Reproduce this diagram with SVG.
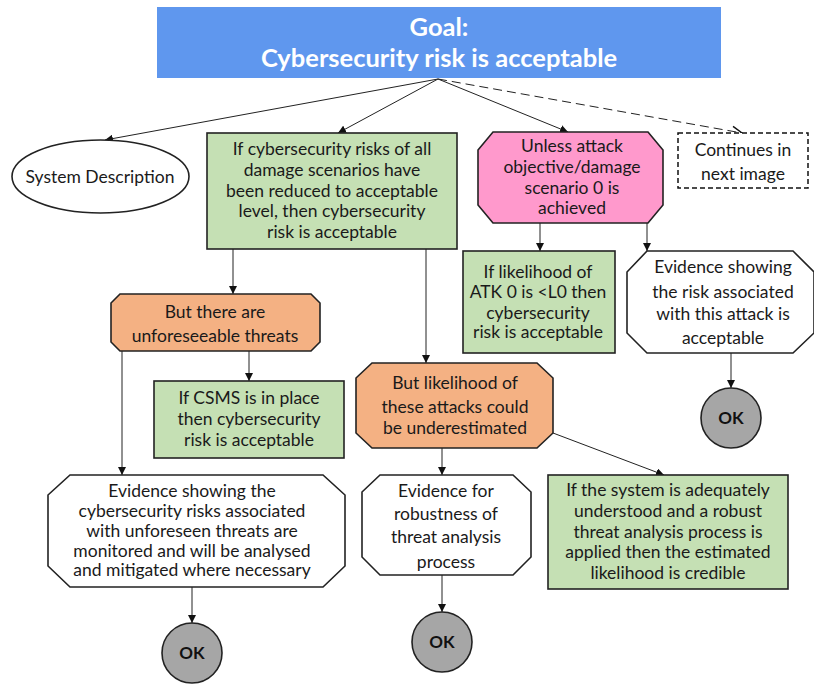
<svg xmlns="http://www.w3.org/2000/svg" width="814" height="684" viewBox="0 0 814 684">
  <defs>
    <marker id="arr" viewBox="0 0 10 10" refX="10" refY="5" markerWidth="8" markerHeight="8" markerUnits="userSpaceOnUse" orient="auto">
      <path d="M0,0 L10,5 L0,10 Z" fill="#111"/>
    </marker>
    <marker id="open" viewBox="0 0 12 12" refX="11" refY="6" markerWidth="12" markerHeight="12" markerUnits="userSpaceOnUse" orient="auto">
      <path d="M1,1 L11,6 L1,11" fill="none" stroke="#111" stroke-width="1.4"/>
    </marker>
    <style>
      .t { font-family: Lato, "Liberation Sans", sans-serif; font-size: 17.5px; fill: #1a1a1a; text-anchor: middle; }
      .goal { font-family: Lato, "Liberation Sans", sans-serif; font-size: 25.5px; font-weight: bold; fill: #ffffff; text-anchor: middle; }
      .ok { font-family: Lato, "Liberation Sans", sans-serif; font-size: 17px; font-weight: bold; fill: #111; text-anchor: middle; }
      .green { fill: #c5e0b4; stroke: #222; stroke-width: 1.6; }
      .orange { fill: #f4b183; stroke: #222; stroke-width: 1.6; }
      .pink { fill: #ff99cc; stroke: #222; stroke-width: 1.6; }
      .white { fill: #ffffff; stroke: #222; stroke-width: 1.6; }
      .okc { fill: #a6a6a6; stroke: #222; stroke-width: 1.6; }
      .ln { stroke: #222; stroke-width: 1; fill: none; }
    </style>
  </defs>

  <!-- connectors -->
  <g id="connectors">
    <line class="ln" x1="438" y1="79" x2="105" y2="140" marker-end="url(#arr)"/>
    <line class="ln" x1="438" y1="79" x2="338" y2="133" marker-end="url(#arr)"/>
    <line class="ln" x1="438" y1="79" x2="568" y2="132" marker-end="url(#arr)"/>
    <line class="ln" x1="438" y1="79" x2="742" y2="133" stroke="#111" stroke-dasharray="9,5" stroke-width="1.7" marker-end="url(#open)"/>
    <line class="ln" x1="233" y1="249" x2="233" y2="294" marker-end="url(#arr)"/>
    <line class="ln" x1="426" y1="249" x2="426" y2="363" marker-end="url(#arr)"/>
    <line class="ln" x1="540" y1="223" x2="540" y2="251" marker-end="url(#arr)"/>
    <line class="ln" x1="647" y1="223" x2="647" y2="251" marker-end="url(#arr)"/>
    <line class="ln" x1="122" y1="351" x2="122" y2="475" marker-end="url(#arr)"/>
    <line class="ln" x1="249" y1="351" x2="249" y2="381" marker-end="url(#arr)"/>
    <line class="ln" x1="731" y1="353" x2="731" y2="388" marker-end="url(#arr)"/>
    <line class="ln" x1="442" y1="448" x2="442" y2="475" marker-end="url(#arr)"/>
    <line class="ln" x1="553" y1="433" x2="664" y2="475" marker-end="url(#arr)"/>
    <line class="ln" x1="192" y1="587" x2="192" y2="623" marker-end="url(#arr)"/>
    <line class="ln" x1="442" y1="575" x2="442" y2="612" marker-end="url(#arr)"/>
  </g>

  <!-- top goal -->
  <g id="goal">
    <rect x="157" y="7" width="564" height="71" fill="#5f97ee"/>
    <text class="goal" x="439" y="36">Goal:</text>
    <text class="goal" x="439" y="67">Cybersecurity risk is acceptable</text>
  </g>

  <g id="system-description">
    <ellipse cx="100.5" cy="176.5" rx="88.5" ry="36.5" fill="#fff" stroke="#222" stroke-width="1.6"/>
    <text class="t" x="100" y="183">System Description</text>
  </g>

  <g id="strategy-all-scenarios">
    <rect class="green" x="207" y="133" width="250" height="116"/>
    <text class="t" x="332" y="155">If cybersecurity risks of all</text>
    <text class="t" x="332" y="176">damage scenarios have</text>
    <text class="t" x="332" y="197">been reduced to acceptable</text>
    <text class="t" x="332" y="217">level, then cybersecurity</text>
    <text class="t" x="332" y="238">risk is acceptable</text>
  </g>

  <g id="defeater-damage-scenario">
    <polygon class="pink" points="493,132 648,132 663,150 663,205 648,223 493,223 478,205 478,150"/>
    <text class="t" x="572" y="152">Unless attack</text>
    <text class="t" x="572" y="173">objective/damage</text>
    <text class="t" x="572" y="194">scenario 0 is</text>
    <text class="t" x="572" y="214">achieved</text>
  </g>

  <g id="continues">
    <rect x="678" y="133" width="130" height="55" fill="#fff" stroke="#111" stroke-width="1.5" stroke-dasharray="5,3"/>
    <text class="t" x="743" y="156">Continues in</text>
    <text class="t" x="743" y="180">next image</text>
  </g>

  <g id="likelihood-atk0">
    <rect class="green" x="463" y="251" width="152" height="102"/>
    <text class="t" x="538" y="278">If likelihood of</text>
    <text class="t" x="538" y="298">ATK 0 is &lt;L0 then</text>
    <text class="t" x="538" y="319">cybersecurity</text>
    <text class="t" x="538" y="338">risk is acceptable</text>
  </g>

  <g id="evidence-attack-risk">
    <polygon class="white" points="647,251 793,251 814,272 814,333 793,353 647,353 627,333 627,272"/>
    <text class="t" x="723" y="273">Evidence showing</text>
    <text class="t" x="723" y="298">the risk associated</text>
    <text class="t" x="723" y="320">with this attack is</text>
    <text class="t" x="723" y="344">acceptable</text>
  </g>

  <g id="ok-attack">
    <circle class="okc" cx="731" cy="418" r="30"/>
    <text class="ok" x="731" y="424">OK</text>
  </g>

  <g id="defeater-unforeseeable">
    <polygon class="orange" points="120,294 311,294 320,303 320,342 311,351 120,351 111,342 111,303"/>
    <text class="t" x="215" y="318">But there are</text>
    <text class="t" x="215" y="342">unforeseeable threats</text>
  </g>

  <g id="csms">
    <rect class="green" x="154" y="381" width="190" height="77"/>
    <text class="t" x="249" y="404">If CSMS is in place</text>
    <text class="t" x="249" y="425">then cybersecurity</text>
    <text class="t" x="249" y="446">risk is acceptable</text>
  </g>

  <g id="defeater-likelihood">
    <polygon class="orange" points="372,363 537,363 553,378 553,433 537,448 372,448 356,433 356,378"/>
    <text class="t" x="455" y="389">But likelihood of</text>
    <text class="t" x="455" y="413">these attacks could</text>
    <text class="t" x="455" y="434">be underestimated</text>
  </g>

  <g id="evidence-unforeseen">
    <polygon class="white" points="70,475 323,475 345,495 345,566 323,587 70,587 48,566 48,495"/>
    <text class="t" x="192" y="497">Evidence showing the</text>
    <text class="t" x="192" y="517">cybersecurity risks associated</text>
    <text class="t" x="192" y="537">with unforeseen threats are</text>
    <text class="t" x="192" y="557">monitored and will be analysed</text>
    <text class="t" x="192" y="576">and mitigated where necessary</text>
  </g>

  <g id="ok-unforeseen">
    <circle class="okc" cx="192" cy="653" r="30"/>
    <text class="ok" x="192" y="659">OK</text>
  </g>

  <g id="evidence-robustness">
    <polygon class="white" points="380,475 513,475 531,492 531,557 513,575 380,575 362,557 362,492"/>
    <text class="t" x="446" y="497">Evidence for</text>
    <text class="t" x="446" y="520">robustness of</text>
    <text class="t" x="446" y="543">threat analysis</text>
    <text class="t" x="446" y="568">process</text>
  </g>

  <g id="ok-robustness">
    <circle class="okc" cx="442" cy="642" r="30"/>
    <text class="ok" x="442" y="648">OK</text>
  </g>

  <g id="credible-likelihood">
    <rect class="green" x="548" y="475" width="240" height="114"/>
    <text class="t" x="668" y="496">If the system is adequately</text>
    <text class="t" x="668" y="517">understood and a robust</text>
    <text class="t" x="668" y="538">threat analysis process is</text>
    <text class="t" x="668" y="558">applied then the estimated</text>
    <text class="t" x="668" y="579">likelihood is credible</text>
  </g>
</svg>
